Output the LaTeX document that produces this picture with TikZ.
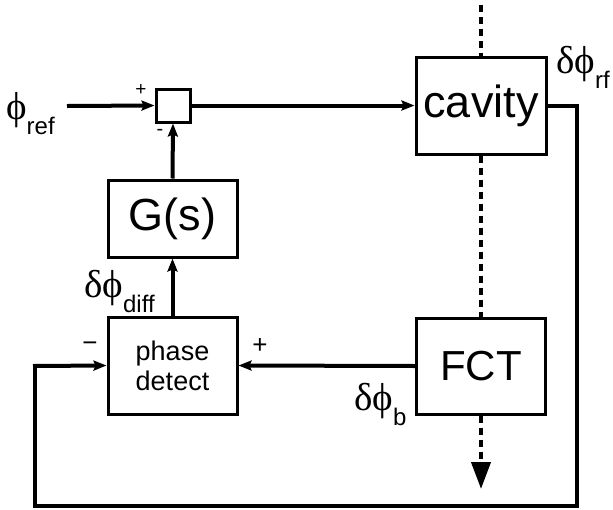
\documentclass[tikz,border=0pt]{standalone}
\usepackage{fontspec}
\setmainfont{Liberation Sans}
\newfontfamily\grk{Liberation Serif}
\usetikzlibrary{arrows.meta}
\newcommand{\glab}[2]{{\grk\fontsize{39}{41}\selectfont #1}\raisebox{-15pt}{\fontsize{24}{26}\selectfont #2}}
\begin{document}
\begin{tikzpicture}[x=1pt,y=-1pt,
  blk/.style={draw,line width=3pt,fill=white,inner sep=0pt,align=center},
  sig/.style={line width=4pt,-{Stealth[length=13pt,width=10pt,inset=2pt]}},
  wire/.style={line width=4pt},
  beam/.style={line width=4pt,dash pattern=on 7pt off 5pt},
  lab/.style={inner sep=0pt,anchor=base west},
]
\useasboundingbox (0,0) rectangle (613,509);
% blocks
\node[blk,minimum width=34pt,minimum height=33pt] (sum) at (173,105.5) {};
\node[blk,minimum width=130pt,minimum height=97pt,font=\fontsize{45}{48}\selectfont] (cav) at (481,105.5) {cavity};
\node[blk,minimum width=129pt,minimum height=77pt,font=\fontsize{45}{48}\selectfont] (G) at (172.5,218.5) {G(s)};
\node[blk,minimum width=129pt,minimum height=97pt,font=\fontsize{27}{30}\selectfont] (pd) at (172.5,365.5) {phase\\detect};
\node[blk,minimum width=129pt,minimum height=96pt,font=\fontsize{42}{46}\selectfont] (fct) at (481,366) {FCT};
% coordinates
\coordinate (in) at (67,106);
\coordinate (btop) at (481,5);
\coordinate (bend) at (481,489);
\coordinate (c1) at (577,105.5);
\coordinate (c2) at (577,506);
\coordinate (c3) at (35,506);
\coordinate (c4) at (35,366);
% signal lines
\draw[sig] (in) -- (sum.west);
\draw[sig] (sum.east) -- (cav.west);
\draw[sig] (G.north) -- (sum.south);
\draw[sig] (pd.north) -- (G.south);
\draw[sig] (fct.west) -- (pd.east);
\draw[wire] (cav.east) -- (c1) -- (c2) -- (c3) -- (c4);
\draw[sig] ([xshift=-2pt]c4) -- (pd.west);
% beam
\draw[beam] (btop) -- (cav.north);
\draw[beam] (cav.south) -- (fct.north);
\draw[beam,-{Triangle[length=27pt,width=19pt]}] (fct.south) -- (bend);
% signs
\node[font=\fontsize{19}{21}\selectfont] (p1) at (141,90) {+};
\node[font=\fontsize{20}{22}\selectfont] (m1) at (160,132) {-};
\node[font=\fontsize{26}{28}\selectfont] (m2) at (90,347) {−};
\node[font=\fontsize{26}{28}\selectfont] (p2) at (260,346) {+};
% labels
\node[lab] (lref) at (6,119) {\glab{ϕ}{ref}};
\node[lab] (ldiff) at (84,297) {\glab{δϕ}{diff}};
\node[lab] (lb) at (354,410) {\glab{δϕ}{b}};
\node[lab] (lrf) at (556,73) {\glab{δϕ}{rf}};
\end{tikzpicture}
\end{document}
